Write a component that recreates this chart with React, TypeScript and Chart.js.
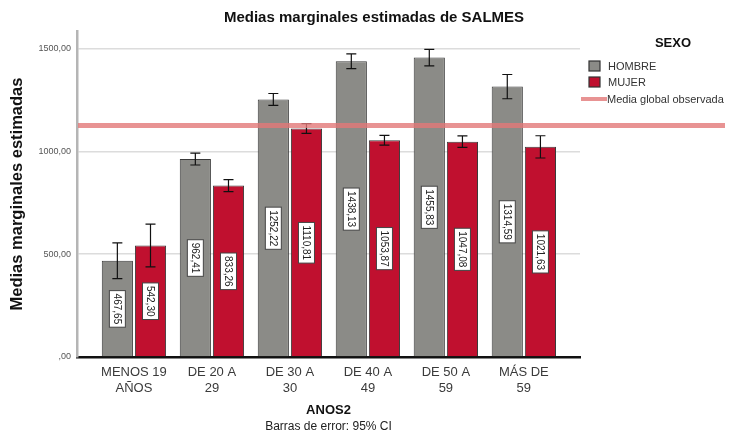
import React, { useEffect, useRef } from "react";
import { Chart, registerables } from "chart.js";

Chart.register(...registerables);

const categories: string[][] = [
  ["MENOS 19", "AÑOS"],
  ["DE 20 A", "29"],
  ["DE 30 A", "30"],
  ["DE 40 A", "49"],
  ["DE 50 A", "59"],
  ["MÁS DE", "59"],
];
const hombre = [467.65, 962.41, 1252.22, 1438.13, 1455.83, 1314.59];
const mujer = [542.3, 833.26, 1110.81, 1053.87, 1047.08, 1021.63];
const hombreErr = [87, 29, 29, 36, 40, 59];
const mujerErr = [104, 29, 24, 24, 28, 54];
const mediaGlobal = 1125;
const yTicks = [0, 500, 1000, 1500];

const GREY = "#8b8b87";
const RED = "#c0102f";
const LINE = "rgba(226,120,120,0.8)";
const FONT = "'Liberation Sans', Arial, sans-serif";

const fmt = (v: number) =>
  v === 0 ? ",00" : v.toFixed(2).replace(".", ",");

const overlay = {
  id: "overlay",
  afterDatasetsDraw(chart: any) {
    const ctx = chart.ctx;
    const y = chart.scales.y;
    const ca = chart.chartArea;
    const errs = [hombreErr, mujerErr];
    const vals = [hombre, mujer];
    ctx.save();
    // error bars and labels
    [0, 1].forEach((di) => {
      const meta = chart.getDatasetMeta(di);
      meta.data.forEach((bar: any, i: number) => {
        const v = vals[di][i];
        const e = errs[di][i];
        const bx = bar.x;
        const yt = y.getPixelForValue(v + e);
        const yb = y.getPixelForValue(v - e);
        ctx.strokeStyle = "#111";
        ctx.lineWidth = 1.2;
        ctx.beginPath();
        ctx.moveTo(bx, yt);
        ctx.lineTo(bx, yb);
        ctx.moveTo(bx - 5, yt);
        ctx.lineTo(bx + 5, yt);
        ctx.moveTo(bx - 5, yb);
        ctx.lineTo(bx + 5, yb);
        ctx.stroke();
        // label
        const mid = (y.getPixelForValue(v) + y.getPixelForValue(0)) / 2;
        const txt = fmt(v);
        ctx.save();
        ctx.font = `10px ${FONT}`;
        const w = ctx.measureText(txt).width;
        ctx.translate(bx, mid);
        ctx.rotate(Math.PI / 2);
        const bw = w + 6;
        const bh = 16;
        ctx.fillStyle = "#fff";
        ctx.fillRect(-bw / 2, -bh / 2, bw, bh);
        ctx.strokeStyle = "#444";
        ctx.lineWidth = 1;
        ctx.strokeRect(-bw / 2, -bh / 2, bw, bh);
        ctx.fillStyle = "#222";
        ctx.textAlign = "center";
        ctx.textBaseline = "middle";
        ctx.fillText(txt, 0, 0.5);
        ctx.restore();
      });
    });
    // reference line
    const ly = y.getPixelForValue(mediaGlobal);
    ctx.strokeStyle = LINE;
    ctx.lineWidth = 5;
    ctx.beginPath();
    ctx.moveTo(ca.left + 1, ly);
    ctx.lineTo(chart.width, ly);
    ctx.stroke();

    // title
    ctx.fillStyle = "#111";
    ctx.textAlign = "center";
    ctx.textBaseline = "middle";
    ctx.font = `bold 15px ${FONT}`;
    ctx.fillText("Medias marginales estimadas de SALMES", 366, 10);

    // x title and footer
    const cx = (ca.left + ca.right) / 2;
    ctx.font = `bold 13px ${FONT}`;
    ctx.fillText("ANOS2", cx, 402);
    ctx.font = `12px ${FONT}`;
    ctx.fillStyle = "#222";
    ctx.fillText("Barras de error: 95% CI", cx, 418.5);

    // legend
    ctx.font = `bold 13px ${FONT}`;
    ctx.fillStyle = "#111";
    ctx.fillText("SEXO", 665, 35.5);
    ctx.textAlign = "left";
    ctx.font = `11px ${FONT}`;
    const items = [
      { c: GREY, t: "HOMBRE", yy: 58 },
      { c: RED, t: "MUJER", yy: 74 },
    ];
    items.forEach((it) => {
      ctx.fillStyle = it.c;
      ctx.fillRect(581, it.yy - 5, 11, 10);
      ctx.strokeStyle = "#333";
      ctx.lineWidth = 1.2;
      ctx.strokeRect(581, it.yy - 5, 11, 10);
      ctx.fillStyle = "#333";
      ctx.fillText(it.t, 600, it.yy + 0.5);
    });
    ctx.strokeStyle = LINE;
    ctx.lineWidth = 4;
    ctx.beginPath();
    ctx.moveTo(573, 91);
    ctx.lineTo(599, 91);
    ctx.stroke();
    ctx.fillStyle = "#333";
    ctx.fillText("Media global observada", 599, 91.5);
    ctx.restore();
  },
};

export default function App() {
  const ref = useRef<HTMLCanvasElement | null>(null);
  useEffect(() => {
    if (!ref.current) return;
    const chart = new Chart(ref.current, {
      type: "bar",
      data: {
        datasets: [
          {
            label: "HOMBRE",
            data: hombre.map((v, i) => ({ x: i, y: v })),
            backgroundColor: GREY,
            borderColor: "#3a3a3a",
            borderWidth: 1,
          },
          {
            label: "MUJER",
            data: mujer.map((v, i) => ({ x: i, y: v })),
            backgroundColor: RED,
            borderColor: "#3a3a3a",
            borderWidth: 1,
          },
        ],
      },
      plugins: [overlay],
      options: {
        animation: false,
        responsive: false,
        maintainAspectRatio: false,
        categoryPercentage: 0.85,
        barPercentage: 0.94,
        layout: { padding: { top: 23, right: 145, left: 0, bottom: 0 } },
        plugins: {
          legend: { display: false },
          title: { display: false },
          tooltip: { enabled: false },
        },
        scales: {
          x: {
            type: "linear",
            offset: false,
            min: -0.73,
            max: 5.72,
            afterBuildTicks: (s: any) => {
              s.ticks = categories.map((_, i) => ({ value: i }));
            },
            afterFit: (s: any) => {
              s.height = 74;
            },
            grid: { display: false, drawTicks: false },
            border: { display: true, color: "#111", width: 2.5 },
            ticks: {
              padding: 7,
              maxRotation: 0,
              autoSkip: false,
              color: "#3a3a3a",
              font: { family: FONT, size: 13, lineHeight: 1.25 },
              callback: (v: any) => categories[Math.round(v)] ?? "",
            },
          },
          y: {
            min: 0,
            max: 1585,
            afterBuildTicks: (s: any) => {
              s.ticks = yTicks.map((v) => ({ value: v }));
            },
            afterFit: (s: any) => {
              s.width = 69;
            },
            grid: {
              color: (c: any) => (c.tick && c.tick.value === 0 ? "rgba(0,0,0,0)" : "#dcdcdc"),
              lineWidth: 1.5,
              drawTicks: false,
            },
            border: { display: true, color: "#b5b5b5", width: 2.5 },
            ticks: {
              padding: 6,
              color: "#555",
              font: { family: FONT, size: 9 },
              callback: (v: any) => fmt(Number(v)),
            },
            title: {
              display: true,
              text: "Medias marginales estimadas",
              color: "#111",
              padding: { top: 0, bottom: 0 },
              font: { family: FONT, size: 16.5, weight: "bold" },
            },
          },
        },
      },
    });
    return () => chart.destroy();
  }, []);
  return (
    <div style={{ width: 717, height: 423 }}>
      <canvas ref={ref} width={717} height={423} style={{ width: 717, height: 423 }} />
    </div>
  );
}
